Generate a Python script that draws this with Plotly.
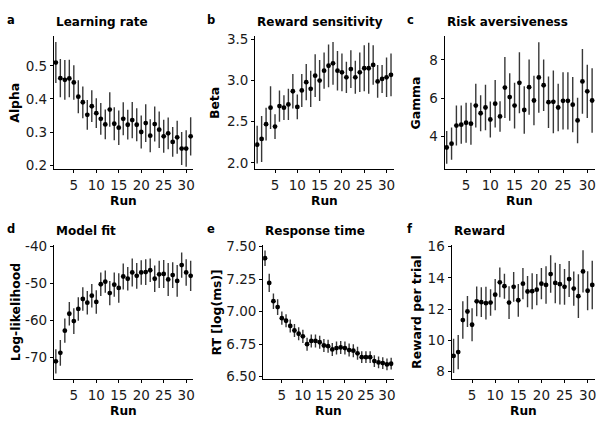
import plotly.graph_objects as go

W, H = 605, 432

runs = list(range(1, 32))

alpha_mean = [0.510, 0.463, 0.458, 0.462, 0.450, 0.407, 0.390, 0.352, 0.378, 0.357,
              0.340, 0.323, 0.368, 0.325, 0.313, 0.340, 0.322, 0.336, 0.322, 0.300,
              0.327, 0.289, 0.324, 0.307, 0.287, 0.296, 0.270, 0.284, 0.250, 0.250, 0.287]
alpha_err = [0.062, 0.058, 0.060, 0.057, 0.052, 0.050, 0.048, 0.045, 0.048, 0.045,
             0.048, 0.045, 0.052, 0.050, 0.052, 0.050, 0.045, 0.055, 0.050, 0.050,
             0.057, 0.050, 0.053, 0.055, 0.050, 0.048, 0.045, 0.050, 0.050, 0.055, 0.058]

beta_mean = [2.22, 2.29, 2.47, 2.67, 2.44, 2.69, 2.67, 2.71, 2.87, 2.68,
             2.88, 2.98, 2.90, 3.06, 3.00, 3.12, 3.18, 3.21, 3.12, 3.10,
             3.04, 3.14, 3.04, 3.10, 3.15, 3.15, 3.19, 2.99, 3.02, 3.04, 3.07]
beta_err = [0.23, 0.28, 0.20, 0.26, 0.15, 0.19, 0.15, 0.19, 0.21, 0.15,
            0.20, 0.22, 0.22, 0.26, 0.25, 0.22, 0.26, 0.26, 0.24, 0.23,
            0.19, 0.23, 0.20, 0.24, 0.28, 0.31, 0.24, 0.20, 0.17, 0.24, 0.26]

gamma_mean = [3.40, 3.60, 4.55, 4.60, 4.70, 4.65, 5.60, 5.20, 5.50, 4.87,
              5.70, 5.03, 6.55, 6.05, 5.60, 6.80, 5.37, 6.57, 5.87, 7.08,
              6.67, 5.78, 5.80, 5.50, 5.85, 5.85, 5.65, 4.82, 6.87, 6.35, 5.87]
gamma_err = [0.86, 0.85, 1.05, 1.00, 1.05, 1.10, 1.15, 0.95, 1.20, 0.95,
             1.25, 0.80, 1.60, 1.25, 1.20, 1.60, 1.25, 1.45, 1.30, 1.85,
             1.35, 1.35, 1.65, 1.25, 1.50, 1.50, 1.45, 1.20, 1.70, 1.40, 1.70]

ll_mean = [-71.1, -68.8, -62.8, -58.2, -60.2, -56.9, -54.2, -55.2, -53.3, -55.0,
           -50.2, -49.5, -52.6, -50.3, -51.2, -48.1, -48.7, -47.0, -47.9, -47.0,
           -46.9, -46.4, -48.7, -47.5, -47.4, -48.9, -47.7, -49.3, -45.0, -47.0, -47.9]
ll_err = [3.3, 3.5, 3.3, 3.2, 3.5, 3.2, 3.2, 3.2, 3.2, 3.2,
          3.2, 3.0, 3.3, 3.3, 4.0, 3.5, 3.2, 3.8, 3.5, 3.3,
          3.5, 3.2, 3.6, 3.7, 3.8, 4.5, 3.5, 4.3, 3.4, 3.6, 4.1]

rt_mean = [7.41, 7.22, 7.08, 7.035, 6.95, 6.93, 6.89, 6.855, 6.83, 6.81,
           6.75, 6.775, 6.775, 6.765, 6.74, 6.735, 6.71, 6.72, 6.725, 6.72,
           6.705, 6.70, 6.68, 6.65, 6.65, 6.65, 6.62, 6.61, 6.605, 6.595, 6.60]
rt_err = [0.06, 0.07, 0.06, 0.06, 0.05, 0.05, 0.05, 0.05, 0.05, 0.05,
          0.05, 0.05, 0.05, 0.05, 0.05, 0.05, 0.05, 0.05, 0.05, 0.05,
          0.05, 0.05, 0.05, 0.045, 0.045, 0.045, 0.045, 0.045, 0.045, 0.045, 0.045]

reward_mean = [9.00, 9.25, 11.30, 11.85, 11.00, 12.50, 12.45, 12.38, 12.42, 12.93,
               13.72, 13.47, 12.42, 13.43, 12.57, 13.63, 13.13, 13.15, 13.25, 13.63,
               13.55, 14.25, 13.68, 13.60, 13.43, 13.93, 13.32, 12.83, 14.42, 13.18, 13.55]
reward_err = [1.10, 1.10, 1.20, 1.00, 1.05, 0.95, 0.95, 1.05, 0.85, 1.00,
              0.95, 0.80, 1.05, 0.95, 1.05, 1.00, 1.00, 1.15, 1.00, 1.00,
              1.20, 1.20, 1.30, 1.30, 1.15, 1.15, 1.10, 1.40, 1.35, 1.25, 1.55]

x_ticks = [5, 10, 15, 20, 25, 30]

# panel: letter, title, y label, mean, err, y range, y ticks, tick text, pixel box (x0, x1, y0, y1)
panels = [
    ("a", "Learning rate", "Alpha", alpha_mean, alpha_err, [0.187, 0.59],
     [0.2, 0.3, 0.4, 0.5], ["0.2", "0.3", "0.4", "0.5"], (54, 194, 30, 167)),
    ("b", "Reward sensitivity", "Beta", beta_mean, beta_err, [1.92, 3.54],
     [2.0, 2.5, 3.0, 3.5], ["2.0", "2.5", "3.0", "3.5"], (256, 395, 30, 167)),
    ("c", "Risk aversiveness", "Gamma", gamma_mean, gamma_err, [2.25, 9.25],
     [4, 6, 8], ["4", "6", "8"], (446, 597, 30, 167)),
    ("d", "Model fit", "Log-likelihood", ll_mean, ll_err, [-76.0, -39.6],
     [-70, -60, -50, -40], ["-70", "-60", "-50", "-40"], (54, 194, 245, 383)),
    ("e", "Response time", "RT [log(ms)]", rt_mean, rt_err, [6.48, 7.51],
     [6.5, 6.75, 7.0, 7.25, 7.5], ["6.50", "6.75", "7.00", "7.25", "7.50"], (264, 395, 245, 383)),
    ("f", "Reward", "Reward per trial", reward_mean, reward_err, [7.5, 16.1],
     [8, 10, 12, 14, 16], ["8", "10", "12", "14", "16"], (453, 597, 245, 383)),
]
ylab_x = [15, 215, 417, 15, 217, 418]
letter_x = [5, 206, 406, 5, 206, 406]

FONT = "DejaVu Sans, sans-serif"

fig = go.Figure()
annotations = []
layout = {}

for i, (letter, title, ylab, mean, err, yr, yt, ytt, box) in enumerate(panels):
    n = "" if i == 0 else str(i + 1)
    x0, x1, y0, y1 = box
    fig.add_trace(go.Scatter(
        x=runs, y=mean, mode="markers",
        marker=dict(color="black", size=4.8),
        error_y=dict(type="data", array=err, visible=True, width=0,
                     thickness=1.4, color="#383838"),
        xaxis="x" + n, yaxis="y" + n, showlegend=False))
    common = dict(showline=True, linecolor="black", linewidth=1, ticks="outside",
                  ticklen=3, tickwidth=1, tickcolor="black", showgrid=False,
                  zeroline=False, tickfont=dict(family=FONT, size=13.5, color="#1a1a1a"))
    layout["xaxis" + n] = dict(domain=[x0 / W, x1 / W], range=[0.55, 31.6],
                               tickvals=x_ticks, anchor="y" + n, **common)
    layout["yaxis" + n] = dict(domain=[1 - y1 / H, 1 - y0 / H], range=yr,
                               tickvals=yt, ticktext=ytt, anchor="x" + n, **common)

    # panel letter
    annotations.append(dict(text="<b>%s</b>" % letter, x=letter_x[i] / W,
                            y=1 - (y0 - 17) / H, xref="paper", yref="paper",
                            xanchor="left", yanchor="middle", showarrow=False,
                            font=dict(family=FONT, size=11.5, color="black")))
    # title
    annotations.append(dict(text="<b>%s</b>" % title, x=x0 / W, y=1 - (y0 - 15) / H,
                            xref="paper", yref="paper", xanchor="left", yanchor="middle",
                            showarrow=False, font=dict(family=FONT, size=12, color="black")))
    # x label
    annotations.append(dict(text="<b>Run</b>", x=(x0 + x1) / 2 / W, y=1 - (y1 + 33) / H,
                            xref="paper", yref="paper", xanchor="center", yanchor="middle",
                            showarrow=False, font=dict(family=FONT, size=12.2, color="black")))
    # y label
    annotations.append(dict(text="<b>%s</b>" % ylab, x=ylab_x[i] / W, y=1 - (y0 + y1) / 2 / H,
                            xref="paper", yref="paper", xanchor="center", yanchor="middle",
                            textangle=-90, showarrow=False,
                            font=dict(family=FONT, size=12.4, color="black")))

fig.update_layout(width=W, height=H, margin=dict(l=0, r=0, t=0, b=0),
                  plot_bgcolor="white", paper_bgcolor="white",
                  annotations=annotations, **layout)

fig.write_html("out.html", config={"displayModeBar": False},
               post_script="document.body.style.margin='0';")
